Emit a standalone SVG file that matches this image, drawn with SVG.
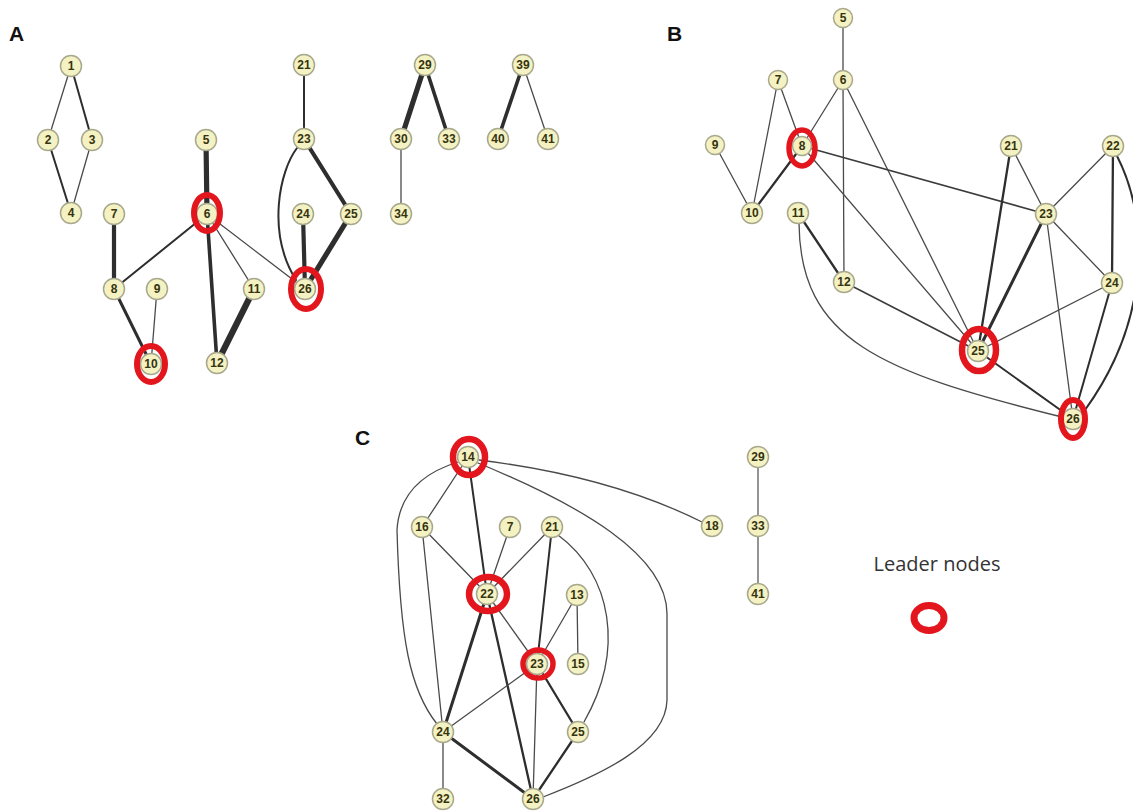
<svg xmlns="http://www.w3.org/2000/svg" width="1133" height="811" viewBox="0 0 1133 811">
<style>
.bg{fill:#ffffff}
.e{fill:none;stroke:#2e2e2e;stroke-linecap:round}
.w1{stroke-width:1.3;stroke:#4a4a4a}
.w15{stroke-width:1.6;stroke:#3c3c3c}
.w2{stroke-width:2}
.w22{stroke-width:2.3}
.w3{stroke-width:3}
.w35{stroke-width:3.6}
.w4{stroke-width:4.2}
.w5{stroke-width:5.2}
.w6{stroke-width:6.2}
.gray{stroke:#7a7a7a;stroke-width:1.6}
.node circle{fill:#f4f1c2;stroke:#a8a88c;stroke-width:1.5}
.node text{font-family:"Liberation Sans",Arial,sans-serif;font-size:12px;font-weight:bold;fill:#34340f;text-anchor:middle}
.ring{fill:none;stroke:#e3161e;stroke-width:6}
.panel{font-family:"Liberation Sans",Arial,sans-serif;font-size:21px;font-weight:bold;fill:#111}
.legend{font-family:"Open Sans","Noto Sans",sans-serif;font-size:20px;fill:#333}
</style>
<rect class="bg" x="0" y="0" width="1133" height="811"/>
<text class="panel" x="9" y="41">A</text>
<text class="panel" x="667" y="41">B</text>
<text class="panel" x="355" y="445">C</text>

<g id="connectors">
<!-- Panel A -->
<line class="e w1" x1="71" y1="66" x2="48" y2="140"/>
<line class="e w2" x1="71" y1="66" x2="92" y2="140"/>
<line class="e w2" x1="48" y1="140" x2="71" y2="213"/>
<line class="e w1" x1="92" y1="140" x2="71" y2="213"/>
<line class="e w5" x1="206" y1="140" x2="207" y2="214"/>
<line class="e w2" x1="207" y1="214" x2="114" y2="289"/>
<line class="e w35" x1="207" y1="214" x2="217" y2="363"/>
<line class="e w1" x1="207" y1="214" x2="254" y2="289"/>
<line class="e w1" x1="207" y1="214" x2="305" y2="289"/>
<line class="e w4" x1="114" y1="214" x2="114" y2="289"/>
<line class="e w3" x1="114" y1="289" x2="151" y2="364"/>
<line class="e w1" x1="157" y1="289" x2="151" y2="364"/>
<line class="e w6" x1="254" y1="289" x2="217" y2="363"/>
<line class="e w2" x1="304" y1="65" x2="304" y2="139"/>
<line class="e w4" x1="304" y1="139" x2="351" y2="214"/>
<path class="e w2" d="M297,148 C280,170 266,232 296,280"/>
<line class="e w4" x1="303" y1="214" x2="305" y2="289"/>
<line class="e w5" x1="351" y1="214" x2="305" y2="289"/>
<line class="e w5" x1="425" y1="65" x2="401" y2="139"/>
<line class="e w35" x1="425" y1="65" x2="449" y2="139"/>
<line class="e w1" x1="401" y1="139" x2="401" y2="214"/>
<line class="e w35" x1="523" y1="65" x2="498" y2="139"/>
<line class="e w1" x1="523" y1="65" x2="548" y2="139"/>
<!-- Panel B -->
<line class="e w1" x1="843" y1="18" x2="843" y2="80"/>
<line class="e w1" x1="843" y1="80" x2="802" y2="146"/>
<line class="e w1" x1="843" y1="80" x2="844" y2="282"/>
<line class="e w1" x1="843" y1="80" x2="978" y2="351"/>
<line class="e w1" x1="778" y1="80" x2="802" y2="146"/>
<line class="e w1" x1="778" y1="80" x2="752" y2="213"/>
<line class="e w1" x1="715" y1="145" x2="752" y2="213"/>
<line class="e w22" x1="802" y1="146" x2="752" y2="213"/>
<line class="e w15" x1="802" y1="146" x2="1046" y2="214"/>
<line class="e w1" x1="802" y1="146" x2="978" y2="351"/>
<line class="e w22" x1="798" y1="213" x2="844" y2="282"/>
<path class="e w1" d="M799,223 C800,340 880,372 1062,417"/>
<line class="e w15" x1="844" y1="282" x2="978" y2="351"/>
<line class="e w1" x1="1011" y1="146" x2="1046" y2="214"/>
<line class="e w22" x1="1011" y1="146" x2="978" y2="351"/>
<line class="e w1" x1="1113" y1="146" x2="1046" y2="214"/>
<line class="e w22" x1="1113" y1="146" x2="1112" y2="283"/>
<path class="e w2" d="M1117,156 C1150,220 1150,320 1085,410"/>
<line class="e w3" x1="1046" y1="214" x2="978" y2="351"/>
<line class="e w1" x1="1046" y1="214" x2="1112" y2="283"/>
<line class="e w1" x1="1046" y1="214" x2="1073" y2="419"/>
<line class="e w1" x1="1112" y1="283" x2="978" y2="351"/>
<line class="e w2" x1="1112" y1="283" x2="1073" y2="419"/>
<line class="e w2" x1="978" y1="351" x2="1073" y2="419"/>
<!-- Panel C -->
<line class="e w1" x1="468" y1="457" x2="422" y2="527"/>
<line class="e w2" x1="468" y1="457" x2="487" y2="594"/>
<path class="e w1" d="M479,460 Q610,476 702,522"/>
<path class="e w1" d="M458,462 Q400,480 397,530 C400,640 410,690 437,724"/>
<path class="e w1" d="M478,463 C580,505 668,555 667,615 L667,700 C666,745 600,775 543,797"/>
<line class="e w1" x1="422" y1="527" x2="487" y2="594"/>
<line class="e w1" x1="422" y1="527" x2="443" y2="732"/>
<line class="e w1" x1="510" y1="527" x2="487" y2="594"/>
<line class="e w1" x1="552" y1="527" x2="487" y2="594"/>
<line class="e w2" x1="552" y1="527" x2="537" y2="664"/>
<path class="e w1" d="M558,535 C612,575 625,650 584,722"/>
<line class="e w1" x1="577" y1="595" x2="537" y2="664"/>
<line class="e w1" x1="577" y1="595" x2="578" y2="664"/>
<line class="e w1" x1="487" y1="594" x2="537" y2="664"/>
<line class="e w3" x1="487" y1="594" x2="443" y2="732"/>
<line class="e w22" x1="487" y1="594" x2="533" y2="799"/>
<line class="e w1" x1="537" y1="664" x2="443" y2="732"/>
<line class="e w1" x1="537" y1="664" x2="533" y2="799"/>
<line class="e w22" x1="537" y1="664" x2="578" y2="732"/>
<line class="e w3" x1="443" y1="732" x2="533" y2="799"/>
<line class="e w1" x1="443" y1="732" x2="443" y2="799"/>
<line class="e w22" x1="578" y1="732" x2="533" y2="799"/>
<line class="e gray" x1="758" y1="457" x2="758" y2="526"/>
<line class="e gray" x1="758" y1="526" x2="758" y2="594"/>
</g>

<!-- Panel A nodes -->
<g id="a-n1" class="node"><circle cx="71" cy="66" r="10.5"/><text x="71" y="70">1</text></g>
<g id="a-n2" class="node"><circle cx="48" cy="140" r="10.5"/><text x="48" y="144">2</text></g>
<g id="a-n3" class="node"><circle cx="92" cy="140" r="10.5"/><text x="92" y="144">3</text></g>
<g id="a-n4" class="node"><circle cx="71" cy="213" r="10.5"/><text x="71" y="217">4</text></g>
<g id="a-n5" class="node"><circle cx="206" cy="140" r="10.5"/><text x="206" y="144">5</text></g>
<g id="a-n6" class="node"><circle cx="207" cy="214" r="10.5"/><text x="207" y="218">6</text><ellipse class="ring" cx="207" cy="213" rx="13" ry="18"/></g>
<g id="a-n7" class="node"><circle cx="114" cy="214" r="10.5"/><text x="114" y="218">7</text></g>
<g id="a-n8" class="node"><circle cx="114" cy="289" r="10.5"/><text x="114" y="293">8</text></g>
<g id="a-n9" class="node"><circle cx="157" cy="289" r="10.5"/><text x="157" y="293">9</text></g>
<g id="a-n10" class="node"><circle cx="151" cy="364" r="10.5"/><text x="151" y="368">10</text><ellipse class="ring" cx="151" cy="364" rx="14" ry="18"/></g>
<g id="a-n11" class="node"><circle cx="254" cy="289" r="10.5"/><text x="254" y="293">11</text></g>
<g id="a-n12" class="node"><circle cx="217" cy="363" r="10.5"/><text x="217" y="367">12</text></g>
<g id="a-n21" class="node"><circle cx="304" cy="65" r="10.5"/><text x="304" y="69">21</text></g>
<g id="a-n23" class="node"><circle cx="304" cy="139" r="10.5"/><text x="304" y="143">23</text></g>
<g id="a-n24" class="node"><circle cx="303" cy="214" r="10.5"/><text x="303" y="218">24</text></g>
<g id="a-n25" class="node"><circle cx="351" cy="214" r="10.5"/><text x="351" y="218">25</text></g>
<g id="a-n26" class="node"><circle cx="305" cy="289" r="10.5"/><text x="305" y="293">26</text><ellipse class="ring" cx="306" cy="289" rx="15" ry="20"/></g>
<g id="a-n29" class="node"><circle cx="425" cy="65" r="10.5"/><text x="425" y="69">29</text></g>
<g id="a-n30" class="node"><circle cx="401" cy="139" r="10.5"/><text x="401" y="143">30</text></g>
<g id="a-n33" class="node"><circle cx="449" cy="139" r="10.5"/><text x="449" y="143">33</text></g>
<g id="a-n34" class="node"><circle cx="401" cy="214" r="10.5"/><text x="401" y="218">34</text></g>
<g id="a-n39" class="node"><circle cx="523" cy="65" r="10.5"/><text x="523" y="69">39</text></g>
<g id="a-n40" class="node"><circle cx="498" cy="139" r="10.5"/><text x="498" y="143">40</text></g>
<g id="a-n41" class="node"><circle cx="548" cy="139" r="10.5"/><text x="548" y="143">41</text></g>

<!-- Panel B nodes -->
<g id="b-n5" class="node"><circle cx="843" cy="18" r="9.5"/><text x="843" y="22">5</text></g>
<g id="b-n6" class="node"><circle cx="843" cy="80" r="9.5"/><text x="843" y="84">6</text></g>
<g id="b-n7" class="node"><circle cx="778" cy="80" r="9.5"/><text x="778" y="84">7</text></g>
<g id="b-n8" class="node"><circle cx="802" cy="146" r="9.5"/><text x="802" y="150">8</text><ellipse class="ring" cx="802" cy="148" rx="13" ry="18" style="stroke-width:5.5"/></g>
<g id="b-n9" class="node"><circle cx="715" cy="145" r="9.5"/><text x="715" y="149">9</text></g>
<g id="b-n10" class="node"><circle cx="752" cy="213" r="10.5"/><text x="752" y="217">10</text></g>
<g id="b-n11" class="node"><circle cx="798" cy="213" r="10.5"/><text x="798" y="217">11</text></g>
<g id="b-n12" class="node"><circle cx="844" cy="282" r="10.5"/><text x="844" y="286">12</text></g>
<g id="b-n21" class="node"><circle cx="1011" cy="146" r="10.5"/><text x="1011" y="150">21</text></g>
<g id="b-n22" class="node"><circle cx="1113" cy="146" r="10.5"/><text x="1113" y="150">22</text></g>
<g id="b-n23" class="node"><circle cx="1046" cy="214" r="10.5"/><text x="1046" y="218">23</text></g>
<g id="b-n24" class="node"><circle cx="1112" cy="283" r="10.5"/><text x="1112" y="287">24</text></g>
<g id="b-n25" class="node"><circle cx="978" cy="351" r="10.5"/><text x="978" y="355">25</text><ellipse class="ring" cx="979" cy="350" rx="17" ry="21" style="stroke-width:6.5"/></g>
<g id="b-n26" class="node"><circle cx="1073" cy="419" r="10.5"/><text x="1073" y="423">26</text><ellipse class="ring" cx="1073" cy="419" rx="12" ry="19"/></g>

<!-- Panel C nodes -->
<g id="c-n14" class="node"><circle cx="468" cy="457" r="10.5"/><text x="468" y="461">14</text><ellipse class="ring" cx="469" cy="457" rx="16" ry="18" style="stroke-width:6.5"/></g>
<g id="c-n16" class="node"><circle cx="422" cy="527" r="10.5"/><text x="422" y="531">16</text></g>
<g id="c-n7" class="node"><circle cx="510" cy="527" r="10.5"/><text x="510" y="531">7</text></g>
<g id="c-n21" class="node"><circle cx="552" cy="527" r="10.5"/><text x="552" y="531">21</text></g>
<g id="c-n22" class="node"><circle cx="487" cy="594" r="10.5"/><text x="487" y="598">22</text><ellipse class="ring" cx="488" cy="594" rx="19" ry="17" style="stroke-width:6.5"/></g>
<g id="c-n13" class="node"><circle cx="577" cy="595" r="10.5"/><text x="577" y="599">13</text></g>
<g id="c-n23" class="node"><circle cx="537" cy="664" r="10.5"/><text x="537" y="668">23</text><ellipse class="ring" cx="538" cy="664" rx="15" ry="14" style="stroke-width:5.5"/></g>
<g id="c-n15" class="node"><circle cx="578" cy="664" r="10.5"/><text x="578" y="668">15</text></g>
<g id="c-n24" class="node"><circle cx="443" cy="732" r="10.5"/><text x="443" y="736">24</text></g>
<g id="c-n25" class="node"><circle cx="578" cy="732" r="10.5"/><text x="578" y="736">25</text></g>
<g id="c-n32" class="node"><circle cx="443" cy="799" r="10.5"/><text x="443" y="803">32</text></g>
<g id="c-n26" class="node"><circle cx="533" cy="799" r="10.5"/><text x="533" y="803">26</text></g>
<g id="c-n18" class="node"><circle cx="712" cy="526" r="10.5"/><text x="712" y="530">18</text></g>
<g id="c-n29" class="node"><circle cx="758" cy="457" r="10.5"/><text x="758" y="461">29</text></g>
<g id="c-n33" class="node"><circle cx="758" cy="526" r="10.5"/><text x="758" y="530">33</text></g>
<g id="c-n41" class="node"><circle cx="758" cy="594" r="10.5"/><text x="758" y="598">41</text></g>

<g id="legend">
<text class="legend" x="937" y="571" text-anchor="middle">Leader nodes</text>
<ellipse class="ring" cx="929" cy="618" rx="15" ry="12.5" style="stroke-width:7"/>
</g>
</svg>
